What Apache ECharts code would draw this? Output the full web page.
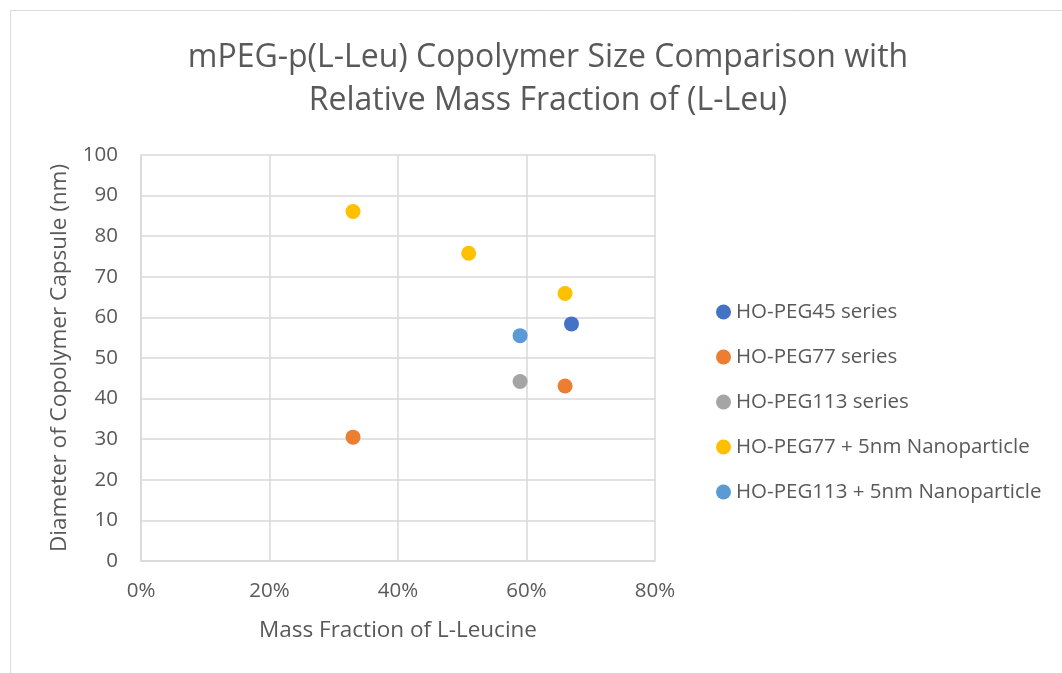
<!DOCTYPE html>
<html>
<head>
<meta charset="utf-8">
<script src="https://cdn.jsdelivr.net/npm/echarts@6/dist/echarts.min.js"></script>
<style>
  html, body { margin: 0; padding: 0; background: #fff; }
  #main { width: 1062px; height: 673px; }
</style>
</head>
<body>
<div id="main"></div>
<script>
// 数据
var seriesNames = ['HO-PEG45 series', 'HO-PEG77 series', 'HO-PEG113 series', 'HO-PEG77 + 5nm Nanoparticle', 'HO-PEG113 + 5nm Nanoparticle'];
var seriesColors = ['#4472c4', '#ed7d31', '#a5a5a5', '#ffc000', '#5b9bd5'];
var peg45 = [[0.67, 58.4]];
var peg77 = [[0.33, 30.5], [0.66, 43.1]];
var peg113 = [[0.59, 44.2]];
var peg77Nano = [[0.33, 86.1], [0.51, 75.8], [0.66, 65.9]];
var peg113Nano = [[0.59, 55.5]];
var seriesData = [peg45, peg77, peg113, peg77Nano, peg113Nano];

(function () {
    var myCharts = echarts.init(document.getElementById('main'));
    var font = 'Open Sans';
    var textColor = '#595959';

    var series = seriesNames.map(function (name, i) {
        return {
            name: name,
            type: 'scatter',
            symbol: 'circle',
            symbolSize: 15,
            itemStyle: { color: seriesColors[i], opacity: 1 },
            data: seriesData[i]
        };
    });

    var option = {
        backgroundColor: '#fff',
        animation: false,
        title: {
            text: 'mPEG-p(L-Leu) Copolymer Size Comparison with\nRelative Mass Fraction of (L-Leu)',
            left: 543,
            textAlign: 'center',
            top: 31,
            textStyle: {
                fontFamily: font,
                fontSize: 32,
                fontWeight: 'normal',
                color: textColor,
                lineHeight: 43
            }
        },
        legend: {
            orient: 'vertical',
            left: 711,
            top: 296,
            itemGap: 23,
            itemWidth: 15,
            itemHeight: 15,
            icon: 'circle',
            textStyle: { fontFamily: font, fontSize: 20.5, color: textColor, lineHeight: 22 },
            data: seriesNames
        },
        grid: {
            left: 141,
            top: 155,
            right: 407,
            bottom: 112,
            containLabel: false
        },
        xAxis: {
            type: 'value',
            min: 0,
            max: 0.8,
            interval: 0.2,
            name: 'Mass Fraction of L-Leucine',
            nameLocation: 'middle',
            nameGap: 58,
            nameTextStyle: { fontFamily: font, fontSize: 22.5, color: textColor },
            axisLine: { show: true, lineStyle: { color: '#d9d9d9', width: 1.5 } },
            axisTick: { show: false },
            axisLabel: {
                fontFamily: font, fontSize: 20.5, color: textColor, margin: 20,
                formatter: function (v) { return Math.round(v * 100) + '%'; }
            },
            splitLine: { show: true, lineStyle: { color: '#d9d9d9', width: 1.5 } }
        },
        yAxis: {
            type: 'value',
            min: 0,
            max: 100,
            interval: 10,
            name: 'Diameter of Copolymer Capsule (nm)',
            nameLocation: 'middle',
            nameGap: 70,
            nameTextStyle: { fontFamily: font, fontSize: 22.5, color: textColor },
            axisLine: { show: true, lineStyle: { color: '#d9d9d9', width: 1.5 } },
            axisTick: { show: false },
            axisLabel: { fontFamily: font, fontSize: 20.5, color: textColor, margin: 23 },
            splitLine: { show: true, lineStyle: { color: '#d9d9d9', width: 1.5 } }
        },
        graphic: [{
            type: 'rect',
            shape: { x: 10.5, y: 10.5, width: 1100, height: 700 },
            style: { fill: 'none', stroke: '#d9d9d9', lineWidth: 1 },
            silent: true
        }],
        series: series
    };

    myCharts.setOption(option);
})();
</script>
</body>
</html>
